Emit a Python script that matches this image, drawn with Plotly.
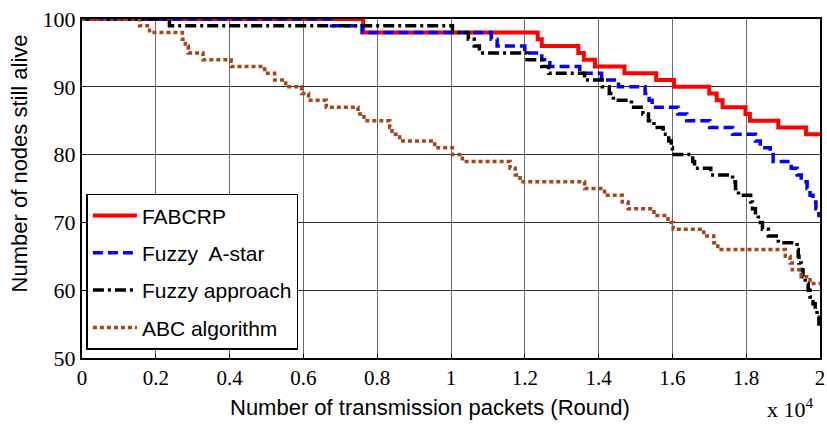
import plotly.graph_objects as go

# x in units of 10^4 rounds; each y value starts at the matching x (step "hv")
fab_x = [0, 0.762, 1.235, 1.246, 1.345, 1.36, 1.39, 1.47, 1.556, 1.604, 1.70, 1.72, 1.736, 1.798, 1.81, 1.887, 1.962, 2.0]
fab_y = [100, 98, 97, 96, 95, 94, 93, 92, 91, 90, 89, 88, 87, 86, 85, 84, 83, 83]

astar_x = [0, 0.676, 0.759, 1.109, 1.125, 1.20, 1.246, 1.268, 1.349, 1.408, 1.454, 1.526, 1.537, 1.545,
           1.615, 1.639, 1.701, 1.763, 1.825, 1.838, 1.865, 1.873, 1.922, 1.938, 1.949, 1.965, 1.973,
           1.981, 1.989, 1.997, 2.0]
astar_y = [100, 99, 98, 97, 96, 95, 94, 93, 92, 91, 90, 89, 88, 87,
           86, 85, 84, 83, 82, 81, 80, 79, 78, 77, 76, 75, 74,
           73, 72, 71, 71]

fuzzy_x = [0, 0.237, 1.004, 1.047, 1.063, 1.077, 1.206, 1.246, 1.265, 1.362, 1.41, 1.429, 1.44, 1.489,
           1.52, 1.535, 1.55, 1.575, 1.59, 1.597, 1.60, 1.655, 1.66, 1.704, 1.763, 1.771, 1.779,
           1.812, 1.817, 1.825, 1.833, 1.844, 1.86, 1.887, 1.938, 1.941, 1.943, 1.949, 1.954,
           1.96, 1.968, 1.973, 1.981, 1.987, 1.992, 1.997, 2.0]
fuzzy_y = [100, 99, 98, 97, 96, 95, 94, 93, 92, 91, 90, 89, 88, 87,
           86, 85, 84, 83, 82, 81, 80, 79, 78, 77, 76, 75, 74,
           73, 72, 71, 70, 69, 68, 67, 66, 65, 64, 63, 62,
           61, 60, 59, 58, 57, 56, 55, 55]

abc_x = [0, 0.156, 0.183, 0.272, 0.280, 0.288, 0.328, 0.404, 0.495, 0.522, 0.552, 0.595, 0.614, 0.662,
         0.748, 0.764, 0.834, 0.840, 0.861, 0.956, 1.004, 1.031, 1.160, 1.174, 1.187, 1.362, 1.416,
         1.464, 1.480, 1.550, 1.588, 1.602, 1.685, 1.712, 1.723, 1.906, 1.919, 1.925, 1.949, 1.973, 2.0]
abc_y = [100, 99, 98, 97, 96, 95, 94, 93, 92, 91, 90, 89, 88, 87,
         86, 85, 84, 83, 82, 81, 80, 79, 78, 77, 76, 75, 74,
         73, 72, 71, 70, 69, 68, 67, 66, 65, 64, 63, 62, 61, 61]

x_ticks = [0, 0.2, 0.4, 0.6, 0.8, 1, 1.2, 1.4, 1.6, 1.8, 2]
x_tick_text = ["0", "0.2", "0.4", "0.6", "0.8", "1", "1.2", "1.4", "1.6", "1.8", "2"]
y_ticks = [50, 60, 70, 80, 90, 100]

fig = go.Figure()
series = [
    ("FABCRP", fab_x, fab_y, "#FF0000", "solid", 4),
    ("Fuzzy  A-star", astar_x, astar_y, "#0000FF", "10px,5px", 3.5),
    ("Fuzzy approach", fuzzy_x, fuzzy_y, "#000000", "11px,4px,3px,4px", 3.5),
    ("ABC algorithm", abc_x, abc_y, "#A8441A", "4px,3px", 3.5),
]
for i, (name, xs, ys, col, dash, w) in enumerate(series):
    fig.add_trace(go.Scatter(x=xs, y=ys, mode="lines", name=name, legendgroup="g%d" % i,
                             line=dict(color=col, dash=dash, width=w, shape="hv")))

fig.update_layout(
    width=827, height=435,
    margin=dict(l=82, r=2, t=19, b=77),
    paper_bgcolor="white", plot_bgcolor="white",
    showlegend=True,
    legend=dict(x=0.006, y=0.024, xanchor="left", yanchor="bottom",
                bgcolor="white", bordercolor="black", borderwidth=1.5,
                font=dict(family="Liberation Sans, Arial", size=21, color="black"),
                tracegroupgap=7, traceorder="grouped", itemwidth=44),
    font=dict(family="Liberation Serif, Times New Roman", color="black"),
)
fig.update_xaxes(range=[0, 2], tickvals=x_ticks, ticktext=x_tick_text,
                 showgrid=True, gridcolor="#6a6a6a", gridwidth=1,
                 showline=True, linecolor="black", linewidth=2, mirror=True,
                 ticks="inside", ticklen=4, tickcolor="black",
                 ticklabeloverflow="allow",
                 tickfont=dict(family="Liberation Serif", size=21, color="black"),
                 zeroline=False)
fig.update_yaxes(range=[50, 100], tickvals=y_ticks,
                 showgrid=True, gridcolor="#303030", gridwidth=1,
                 showline=True, linecolor="black", linewidth=2, mirror=True,
                 ticks="inside", ticklen=4, tickcolor="black",
                 tickfont=dict(family="Liberation Serif", size=22, color="black"),
                 zeroline=False)

fig.add_annotation(text="Number of transmission packets (Round)", xref="paper", yref="paper",
                   x=(432 - 82) / 743, y=-(407 - 358) / 339, xanchor="center", yanchor="middle",
                   showarrow=False, font=dict(family="Liberation Sans, Arial", size=22, color="black"))
fig.add_annotation(text="Number of nodes still alive", xref="paper", yref="paper",
                   x=-(82 - 19) / 743, y=(358 - 163) / 339, xanchor="center", yanchor="middle",
                   textangle=-90, showarrow=False,
                   font=dict(family="Liberation Sans, Arial", size=22, color="black"))
fig.add_annotation(text="x 10<sup>4</sup>", xref="paper", yref="paper",
                   x=(795 - 82) / 743, y=-(408 - 358) / 339, xanchor="center", yanchor="middle",
                   showarrow=False, font=dict(family="Liberation Serif", size=22, color="black"))

fig.write_html("out.html")
